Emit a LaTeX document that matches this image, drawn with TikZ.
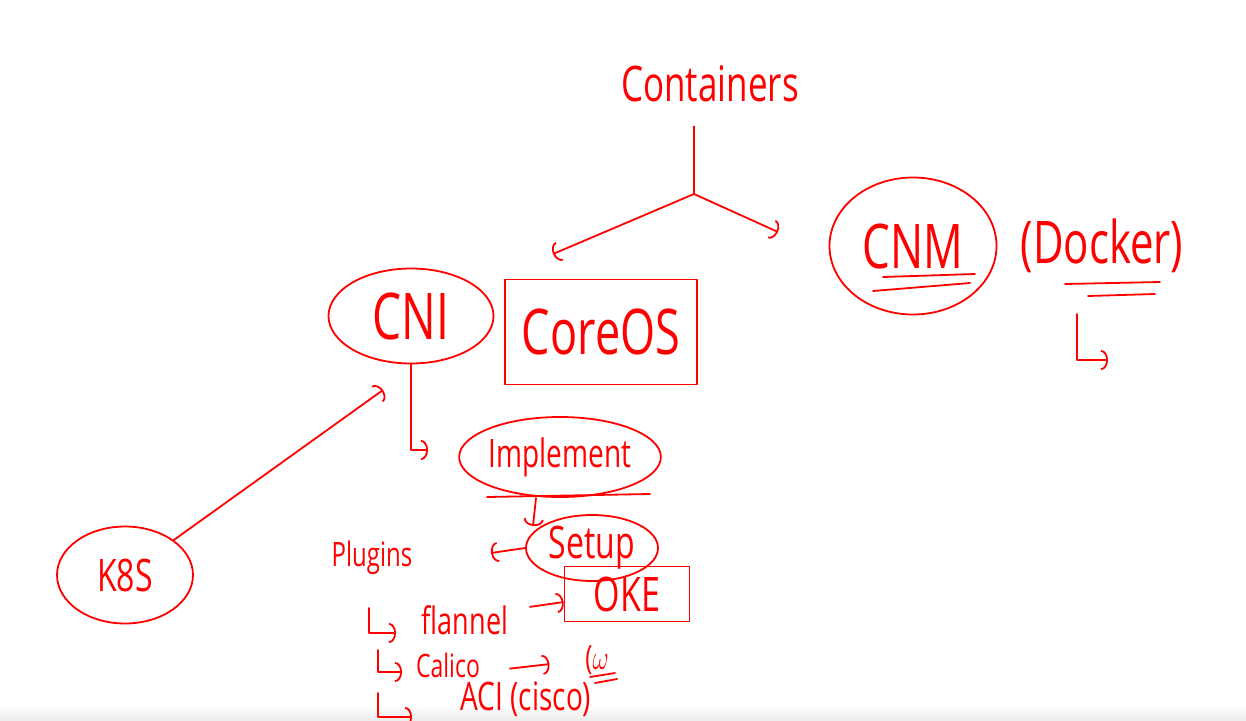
\documentclass[tikz,border=0pt]{standalone}
\usepackage{graphicx}
\usepackage{fontspec}
\setmainfont{Open Sans}
\usetikzlibrary{arrows.meta,shapes.geometric}

% hand lettering: size, then text
\newcommand{\hand}[2]{\fontsize{#1}{#1}\selectfont\scalebox{1}[1.4]{#2}}

\tikzset{
  ink/.style={red, line width=1.8pt, line cap=round, line join=round},
  word/.style={red, inner sep=0pt},
  blob/.style={ink, draw, ellipse, inner sep=0pt},
  frame/.style={ink, draw, rectangle, inner sep=0pt},
  tip/.style={ink, -{Arc Barb[length=7pt, width=20pt]}}
}

\begin{document}
\begin{tikzpicture}[x=1pt, y=-1pt]
    \useasboundingbox (0,0) rectangle (1246,720);
    \shade[top color=white, bottom color=black!7] (0,704) rectangle (1246,720);

    \node[word] (containers) at (710,84) {\hand{35}{Containers}};
    \node[blob, minimum width=165pt, minimum height=95pt] (cni) at (411,316) {\hand{46}{CNI}};
    \node[frame, minimum width=192pt, minimum height=105pt] (coreos) at (601,332) {\hand{45}{CoreOS}};
    \node[blob, minimum width=167pt, minimum height=137pt] (cnm) at (913,246) {\hand{44}{CNM}};
    \node[word] (docker) at (1102,246) {\hand{42}{(Docker)}};
    \node[blob, minimum width=190pt, minimum height=80pt] (implement) at (560,457) {\hand{28}{Implement}};
    \node[blob, minimum width=132pt, minimum height=66pt] (setup) at (592,548) {\hand{32}{Setup}};
    \node[word] (plugins) at (372,558) {\hand{24}{Plugins}};
    \node[frame, minimum width=125pt, minimum height=55pt] (oke) at (627,594) {\hand{34}{OKE}};
    \node[word] (flannel) at (465,620) {\hand{27}{flannel}};
    \node[word] (calico) at (448,665) {\hand{23}{Calico}};
    \node[word] (cw) at (597,660) {\hand{24}{($\omega$}};
    \node[word] (aci) at (526,699) {\hand{28}{ACI (cisco)}};
    \node[blob, minimum width=136pt, minimum height=97pt] (k8s) at (125,575) {\hand{32}{K8S}};

    \coordinate (split) at (694,194);
    \coordinate (split left) at (553,254);
    \coordinate (split right) at (778,232);
    \coordinate (cni end) at (428,450);
    \coordinate (k8s end) at (383,390);
    \coordinate (setup top) at (533,526);
    \coordinate (plugins end) at (491,553);
    \coordinate (docker top) at (1077,314);
    \coordinate (docker end) at (1108,360);
    \coordinate (flannel top) at (369,608);
    \coordinate (flannel end) at (396,633);
    \coordinate (calico top) at (378,650);
    \coordinate (calico end) at (402,672);
    \coordinate (aci top) at (378,693);
    \coordinate (aci end) at (412,717);

    % containers
    \draw[ink] (containers.south -| split) ++(0,24) -- (split);
    \draw[tip] (split) -- (split left);
    \draw[tip] (split) -- (split right);

    % underlines
    \draw[ink] (883,277) -- (975,274);
    \draw[ink] (873,291) -- (970,283);
    \draw[ink] (1065,284) -- (1160,282);
    \draw[ink] (1088,296) -- (1155,294);
    \draw[ink] (487,497) -- (650,494);
    \draw[ink] (590,677) -- (615,673);
    \draw[ink] (595,683) -- (617,679);

    \draw[tip] (docker top) |- (docker end);
    \draw[tip] (cni.south) |- (cni end);
    \draw[tip] (k8s) -- (k8s end);
    \draw[tip] ([xshift=-24pt]implement.south) -- (setup top);
    \draw[tip] (setup.west) -- (plugins end);
    \draw[tip, shorten <=22pt] ([yshift=10pt]flannel.east) -- ([yshift=-8pt]oke.west);
    \draw[tip, shorten <=30pt, shorten >=36pt] ([yshift=-7pt]calico.east) -- (cw.west);

    \draw[tip] (flannel top) |- (flannel end);
    \draw[tip] (calico top) |- (calico end);
    \draw[tip] (aci top) |- (aci end);
\end{tikzpicture}
\end{document}
